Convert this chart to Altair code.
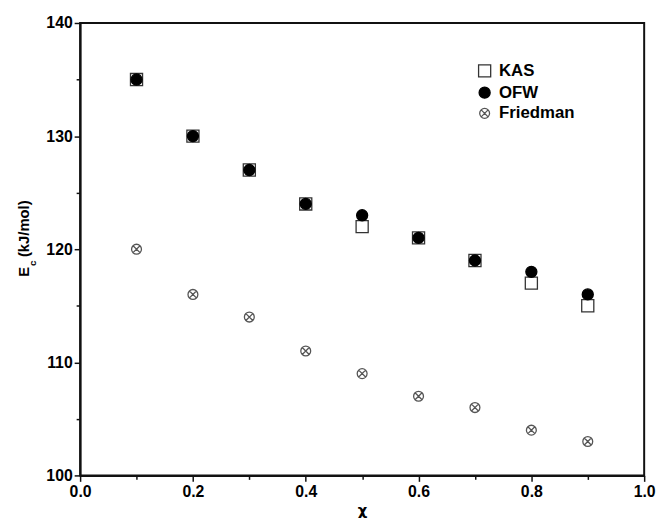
import altair as alt
import pandas as pd

x_vals = [0.1, 0.2, 0.3, 0.4, 0.5, 0.6, 0.7, 0.8, 0.9]
kas = [135, 130, 127, 124, 122, 121, 119, 117, 115]
ofw = [135, 130, 127, 124, 123, 121, 119, 118, 116]
friedman = [120, 116, 114, 111, 109, 107, 106, 104, 103]
series = ["KAS", "OFW", "Friedman"]

rows = []
for name, vals in zip(series, [kas, ofw, friedman]):
    for xv, yv in zip(x_vals, vals):
        rows.append({"chi": xv, "E": yv, "method": name, "order": series.index(name)})
df = pd.DataFrame(rows)

FONT = "Liberation Sans"
friedman_path = ("M1,0A1,1,0,1,1,-1,0A1,1,0,1,1,1,0Z"
                 "M-0.7,-0.7L0.7,0.7M-0.7,0.7L0.7,-0.7")

legend = alt.Legend(title=None, orient="none", legendX=401, legendY=40,
                    labelFont=FONT, labelFontSize=17, labelFontWeight="bold",
                    labelColor="black", rowPadding=3, labelOffset=6)

points = alt.Chart(df).mark_point(opacity=1, fillOpacity=1, strokeWidth=1.3).encode(
    x=alt.X("chi:Q", scale=alt.Scale(domain=[0, 1], nice=False),
            axis=alt.Axis(values=[round(i * 0.1, 1) for i in range(11)],
                          labelExpr="round(datum.value*10) % 2 == 0 ? format(datum.value, '.1f') : ''",
                          tickSize={"condition": {"test": "round(datum.value*10) % 2 == 0", "value": 6}, "value": 4},
                          title="χ", titleFont="DejaVu Sans", titleFontWeight="bold",
                          titleFontSize=15, titlePadding=4)),
    y=alt.Y("E:Q", scale=alt.Scale(domain=[100, 140], nice=False),
            axis=alt.Axis(values=list(range(100, 141, 5)),
                          labelExpr="datum.value % 10 == 0 ? format(datum.value, 'd') : ''",
                          tickSize={"condition": {"test": "datum.value % 10 == 0", "value": 6}, "value": 4},
                          title=None)),
    shape=alt.Shape("method:N", scale=alt.Scale(domain=series, range=["square", "circle", friedman_path]),
                    legend=legend),
    fill=alt.Fill("method:N", scale=alt.Scale(domain=series, range=["white", "black", "transparent"]),
                  legend=legend),
    stroke=alt.Stroke("method:N", scale=alt.Scale(domain=series, range=["#333333", "black", "#555555"]),
                      legend=legend),
    size=alt.Size("method:N", scale=alt.Scale(domain=series, range=[150, 100, 90]), legend=legend),
    order=alt.Order("order:Q"),
)

t_e = alt.Chart(pd.DataFrame({"t": ["E"]})).mark_text(
    angle=270, align="left", baseline="alphabetic", font=FONT, fontSize=15, fontWeight="bold", fill="black"
).encode(x=alt.value(-52), y=alt.value(257), text="t:N")
t_c = alt.Chart(pd.DataFrame({"t": ["c"]})).mark_text(
    angle=270, align="left", baseline="alphabetic", font=FONT, fontSize=10, fontWeight="bold", fill="black"
).encode(x=alt.value(-45), y=alt.value(246), text="t:N")
t_u = alt.Chart(pd.DataFrame({"t": ["(kJ/mol)"]})).mark_text(
    angle=270, align="left", baseline="alphabetic", font=FONT, fontSize=15, fontWeight="bold", fill="black"
).encode(x=alt.value(-52), y=alt.value(237), text="t:N")

chart = alt.layer(points, t_e, t_c, t_u).properties(
    width=571, height=458,
    autosize=alt.AutoSizeParams(type="none"),
    padding={"left": 73, "top": 12, "right": 14, "bottom": 45},
).configure_view(stroke="#111111", strokeWidth=2).configure_axis(
    domainColor="#111111", domainWidth=2, tickColor="#111111", tickWidth=1.5,
    labelFont=FONT, labelFontSize=16, labelFontWeight="bold", labelColor="black",
    titleFont=FONT, titleFontWeight="bold", titleColor="black",
    grid=False, labelPadding=2, labelFlush=False, labelOverlap=False,
).configure_legend(symbolStrokeWidth=1.3)

chart.save("out.html", embed_options={"renderer": "svg", "actions": False})
